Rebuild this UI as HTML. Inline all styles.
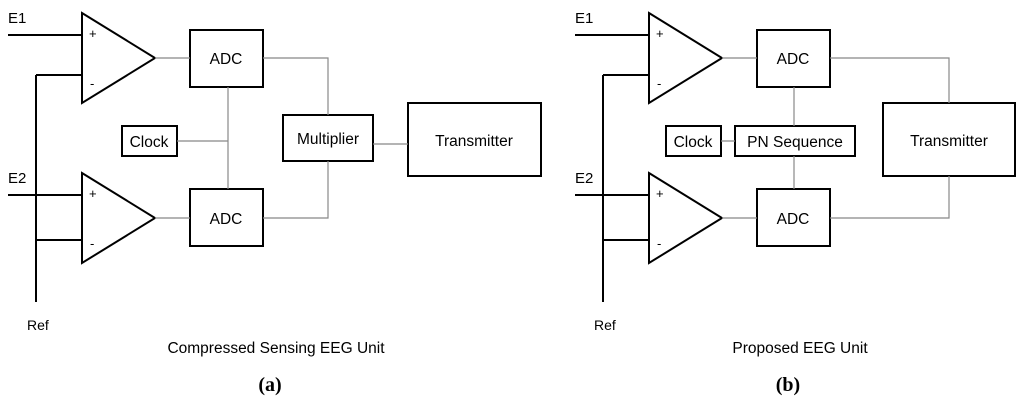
<!DOCTYPE html>
<html><head><meta charset="utf-8"><style>
html,body{margin:0;padding:0;background:#fff;}
svg{display:block;font-family:"Liberation Sans",sans-serif;}
</style></head><body>
<svg width="1024" height="404" viewBox="0 0 1024 404" xmlns="http://www.w3.org/2000/svg">
<g fill="none" stroke="#000" stroke-width="2">
<path d="M8,35H82 M36,75H82 M36,75V302 M8,195H82 M36,240H82"/>
<polygon points="82,13 155,58 82,103"/>
<polygon points="82,173 155,218 82,263"/>
<rect x="190" y="30" width="73" height="57"/>
<rect x="190" y="189" width="73" height="57"/>
<rect x="122" y="126" width="55" height="30"/>
<rect x="283" y="115" width="90" height="46"/>
<rect x="408" y="103" width="133" height="73"/>
</g>
<g fill="none" stroke="#888" stroke-width="1.2">
<path d="M155,58H190 M155,218H190 M228,87V189 M177,141H228 M263,58H328V115 M263,218H328V161 M373,144H408"/>
</g>
<g font-size="15.5" fill="#000" text-anchor="middle">
<text x="226" y="64">ADC</text>
<text x="226" y="224">ADC</text>
<text x="149" y="147">Clock</text>
<text x="328" y="144">Multiplier</text>
<text x="474" y="146">Transmitter</text>
</g>
<g font-size="15" fill="#000">
<text x="8" y="23">E1</text>
<text x="8" y="183">E2</text>
<text x="89" y="38" font-size="13">+</text>
<text x="90" y="88" font-size="13">-</text>
<text x="89" y="198" font-size="13">+</text>
<text x="90" y="248" font-size="13">-</text>
<text x="27" y="330" font-size="14">Ref</text>
</g>
<text x="276" y="353" font-size="15.5" text-anchor="middle">Compressed Sensing EEG Unit</text>
<g fill="none" stroke="#000" stroke-width="2">
<path d="M575,35H649 M603,75H649 M603,75V302 M575,195H649 M603,240H649"/>
<polygon points="649,13 722,58 649,103"/>
<polygon points="649,173 722,218 649,263"/>
<rect x="757" y="30" width="73" height="57"/>
<rect x="757" y="189" width="73" height="57"/>
<rect x="666" y="126" width="55" height="30"/>
<rect x="735" y="126" width="120" height="30"/>
<rect x="883" y="103" width="132" height="73"/>
</g>
<g fill="none" stroke="#888" stroke-width="1.2">
<path d="M722,58H757 M722,218H757 M794,87V126 M794,156V189 M721,141H735 M830,58H949V103 M830,218H949V176"/>
</g>
<g font-size="15.5" fill="#000" text-anchor="middle">
<text x="793" y="64">ADC</text>
<text x="793" y="224">ADC</text>
<text x="693" y="147">Clock</text>
<text x="795" y="147">PN Sequence</text>
<text x="949" y="146">Transmitter</text>
</g>
<g font-size="15" fill="#000">
<text x="575" y="23">E1</text>
<text x="575" y="183">E2</text>
<text x="656" y="38" font-size="13">+</text>
<text x="657" y="88" font-size="13">-</text>
<text x="656" y="198" font-size="13">+</text>
<text x="657" y="248" font-size="13">-</text>
<text x="594" y="330" font-size="14">Ref</text>
</g>
<text x="800" y="353" font-size="15.5" text-anchor="middle">Proposed EEG Unit</text>
<text x="270" y="391" font-size="20" font-weight="bold" text-anchor="middle" font-family="Liberation Serif, serif">(a)</text>
<text x="788" y="391" font-size="20" font-weight="bold" text-anchor="middle" font-family="Liberation Serif, serif">(b)</text>
</svg>
</body></html>
